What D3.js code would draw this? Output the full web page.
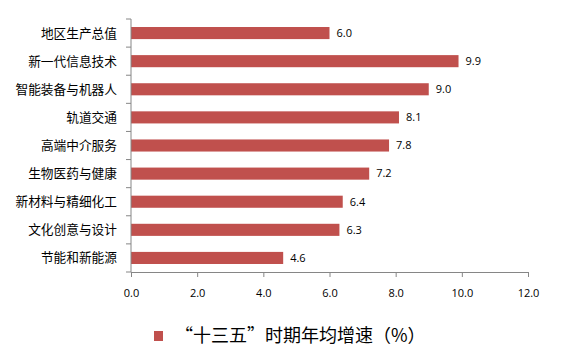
<!DOCTYPE html>
<html><head><meta charset="utf-8">
<script src="https://cdn.jsdelivr.net/npm/d3@7"></script>
<style>body{margin:0;background:#fff}svg{display:block}</style>
</head><body>
<svg id="c" width="566" height="357"></svg>
<script>
const categories = ["地区生产总值","新一代信息技术","智能装备与机器人","轨道交通","高端中介服务","生物医药与健康","新材料与精细化工","文化创意与设计","节能和新能源"];
const values = [6.0, 9.9, 9.0, 8.1, 7.8, 7.2, 6.4, 6.3, 4.6];
const xTicks = [0, 2, 4, 6, 8, 10, 12];
const seriesName = "“十三五”时期年均增速（%）";

(function(){
const svg = d3.select("#c");
const mLeft = 131, mRight = 528, mTop = 19, mBottom = 272;
const cjk = "'Noto Sans CJK SC', sans-serif";
const num = "'Open Sans', 'Liberation Sans', sans-serif";
const color = "#C0504D";
const axisColor = "#868686";

const x = d3.scaleLinear().domain([0, 12]).range([mLeft, mRight]);
const y = d3.scaleBand().domain(categories).range([mTop, mBottom]).paddingInner(0.57).paddingOuter(0.285);

svg.selectAll("rect.bar").data(values).join("rect")
  .attr("x", x(0)).attr("y", (d,i) => y(categories[i]))
  .attr("width", d => x(d) - x(0)).attr("height", y.bandwidth())
  .attr("fill", color);

svg.selectAll("text.val").data(values).join("text")
  .attr("x", d => x(d) + 7).attr("y", (d,i) => y(categories[i]) + y.bandwidth()/2)
  .attr("dy", "0.35em").attr("font-family", num).attr("font-size", 11).attr("fill", "#000")
  .text(d => d.toFixed(1));

const xAxis = d3.axisBottom(x).tickValues(xTicks).tickFormat(d => d.toFixed(1)).tickSizeOuter(0).tickSize(5).tickPadding(12);
const gx = svg.append("g").attr("transform", `translate(0,${mBottom})`).call(xAxis);
gx.select(".domain").attr("stroke", axisColor);
gx.selectAll(".tick line").attr("stroke", axisColor);
gx.selectAll("text").attr("font-family", num).attr("font-size", 11).attr("fill", "#000");

const boundaries = d3.range(categories.length + 1).map(i => mTop + i * (mBottom - mTop) / categories.length);
svg.append("line").attr("x1", mLeft).attr("x2", mLeft).attr("y1", mTop).attr("y2", mBottom).attr("stroke", axisColor);
svg.selectAll("line.yt").data(boundaries).join("line")
  .attr("x1", mLeft - 5).attr("x2", mLeft).attr("y1", d => d).attr("y2", d => d).attr("stroke", axisColor);

svg.selectAll("text.cat").data(categories).join("text")
  .attr("x", 117).attr("y", d => y(d) + y.bandwidth()/2)
  .attr("dy", "0.35em").attr("text-anchor", "end")
  .attr("font-family", cjk).attr("font-size", 12.7).attr("fill", "#000")
  .text(d => d);

svg.append("rect").attr("x", 154).attr("y", 331).attr("width", 9).attr("height", 10).attr("fill", color);
svg.append("text").attr("x", 175).attr("y", 336).attr("dy", "0.35em")
  .attr("font-family", cjk).attr("font-size", 18).attr("fill", "#000").text(seriesName);
})();
</script>
</body></html>
